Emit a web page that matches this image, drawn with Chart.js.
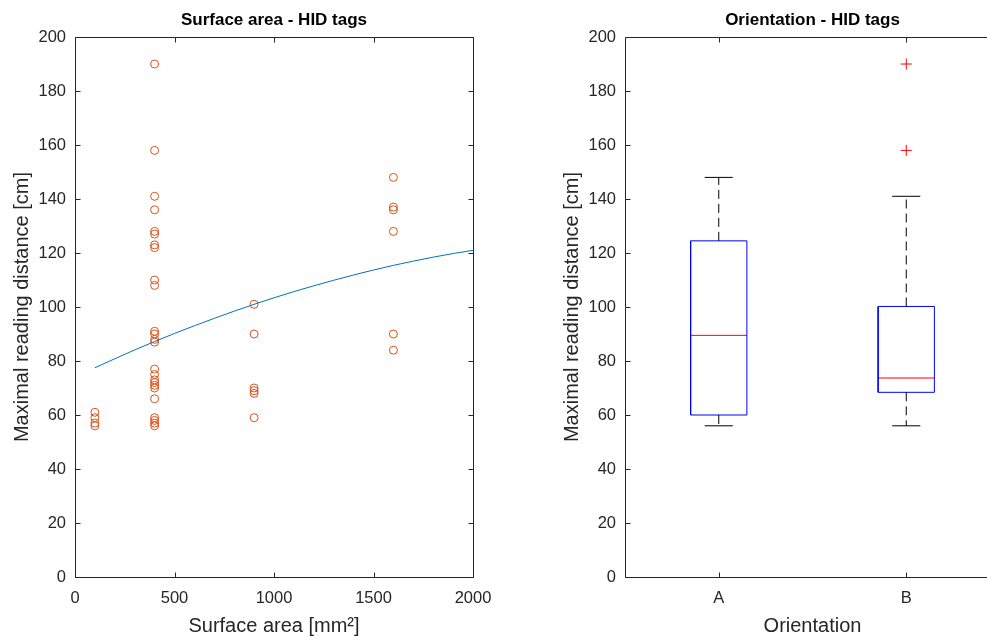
<!DOCTYPE html>
<html>
<head>
<meta charset="utf-8">
<script src="https://cdn.jsdelivr.net/npm/chart.js@4.4.0/dist/chart.umd.min.js"></script>
<style>
  html, body { margin: 0; padding: 0; background: #fff; overflow: hidden; }
  #wrap { position: relative; width: 987px; height: 641px; overflow: hidden; background: #fff; }
  #wrap canvas { position: absolute; top: 0; }
  #c1 { left: 0; }
  #c2 { left: 530px; }
</style>
</head>
<body>
<div id="wrap">
  <canvas id="c1" width="530" height="641"></canvas>
  <canvas id="c2" width="480" height="641"></canvas>
</div>
<script>
// ---- Surface area vs. maximal reading distance ----
const surfaceArea = [
  100, 100, 100, 100,
  400, 400, 400, 400, 400, 400, 400, 400, 400, 400, 400, 400, 400,
  400, 400, 400, 400, 400, 400, 400, 400, 400, 400, 400, 400,
  900, 900, 900, 900, 900, 900,
  1600, 1600, 1600, 1600, 1600, 1600
];
const readingDistance = [
  61, 59, 57, 56,
  190, 158, 141, 136, 128, 127, 123, 122, 110, 108, 91, 90, 88,
  87, 77, 75, 73, 72, 71, 70, 66, 59, 58, 57, 56,
  101, 90, 70, 69, 68, 59,
  148, 137, 136, 128, 90, 84
];

// fitted trend curve
const fitArea = [100, 300, 500, 700, 900, 1100, 1300, 1500, 1700, 1900, 2000];
const fitDistance = [77.5, 84.1, 90.2, 95.8, 101, 105.7, 109.9, 113.7, 117, 119.8, 121];

// ---- Orientation box plot statistics ----
const orientations = ['A', 'B'];
const whiskerLow = [56, 56];
const quartile1 = [60, 68.4];
const medians = [89.5, 73.7];
const quartile3 = [124.5, 100.2];
const whiskerHigh = [148, 141];
const outliers = [[], [190, 158]];

// axis tick values
const areaTicks = [0, 500, 1000, 1500, 2000];
const distanceTicks = [0, 20, 40, 60, 80, 100, 120, 140, 160, 180, 200];

// ---- styling ----
const FONT = "'Liberation Sans', Arial, Helvetica, sans-serif";
const AXIS_COLOR = '#262626';
const TICK_LEN = 5;
const BOX_HALF = 0.15;
const CAP_HALF = 0.075;
const WHISKER_DASH = [9, 5];

// Closed box with inward tick marks on all four sides
const framePlugin = {
  id: 'frame',
  afterDatasetsDraw(chart) {
    const { ctx, chartArea: a, scales: { x, y } } = chart;
    const L = Math.round(a.left) + 0.5, R = Math.round(a.right) + 0.5;
    const T = Math.round(a.top) + 0.5, B = Math.round(a.bottom) + 0.5;
    ctx.save();
    ctx.strokeStyle = AXIS_COLOR;
    ctx.lineWidth = 1;
    ctx.beginPath();
    ctx.rect(L, T, R - L, B - T);
    x.ticks.forEach(t => {
      const px = Math.round(x.getPixelForValue(t.value)) + 0.5;
      ctx.moveTo(px, B); ctx.lineTo(px, B - TICK_LEN);
      ctx.moveTo(px, T); ctx.lineTo(px, T + TICK_LEN);
    });
    y.ticks.forEach(t => {
      const py = Math.round(y.getPixelForValue(t.value)) + 0.5;
      ctx.moveTo(L, py); ctx.lineTo(L + TICK_LEN, py);
      ctx.moveTo(R, py); ctx.lineTo(R - TICK_LEN, py);
    });
    ctx.stroke();
    ctx.restore();
  }
};

function titleOpts(text) {
  return {
    display: true,
    fullSize: false,
    text: text,
    color: '#000',
    font: { family: FONT, size: 17, weight: 'bold' },
    padding: { top: 10, bottom: 6.6 }
  };
}

function yScale() {
  return {
    type: 'linear',
    min: 0, max: 200,
    afterBuildTicks: s => { s.ticks = distanceTicks.map(v => ({ value: v })); },
    afterFit: s => { s.width = 75; },
    grid: { display: false, drawTicks: false },
    border: { display: false },
    ticks: {
      color: AXIS_COLOR, padding: 9,
      font: { family: FONT, size: 16.5 },
      callback: v => String(v)
    },
    title: {
      display: true,
      text: 'Maximal reading distance [cm]',
      color: AXIS_COLOR,
      font: { family: FONT, size: 20 },
      padding: { top: 10, bottom: 0 }
    }
  };
}

function xScale(extra) {
  return Object.assign({
    type: 'linear',
    afterFit: s => { s.height = 64; },
    grid: { display: false, drawTicks: false },
    border: { display: false }
  }, extra);
}

const common = {
  responsive: false,
  animation: false,
  events: [],
  plugins: { legend: { display: false }, tooltip: { enabled: false } }
};

// ---- left: scatter with trend curve ----
new Chart(document.getElementById('c1'), {
  type: 'scatter',
  data: {
    datasets: [
      {
        type: 'line',
        data: fitArea.map((x, i) => ({ x, y: fitDistance[i] })),
        borderColor: '#0072BD',
        borderWidth: 1,
        pointRadius: 0,
        cubicInterpolationMode: 'monotone',
        fill: false,
        order: 0
      },
      {
        data: surfaceArea.map((x, i) => ({ x, y: readingDistance[i] })),
        pointStyle: 'circle',
        pointRadius: 4,
        borderColor: '#D95319',
        backgroundColor: 'rgba(0,0,0,0)',
        borderWidth: 1,
        order: 1
      }
    ]
  },
  options: Object.assign({}, common, {
    layout: { padding: { left: 0, right: 57, top: 0, bottom: 0 } },
    plugins: Object.assign({}, common.plugins, { title: titleOpts('Surface area - HID tags') }),
    scales: {
      x: xScale({
        min: 0, max: 2000,
        afterBuildTicks: s => { s.ticks = areaTicks.map(v => ({ value: v })); },
        ticks: {
          color: AXIS_COLOR, padding: 12, maxRotation: 0,
          font: { family: FONT, size: 16.5 },
          callback: v => String(v)
        },
        title: {
          display: true,
          text: 'Surface area [mm²]',
          color: AXIS_COLOR,
          font: { family: FONT, size: 20 },
          padding: { top: 0, bottom: 3 }
        }
      }),
      y: yScale()
    }
  }),
  plugins: [framePlugin]
});

// ---- right: box plot per orientation ----
function line(points, color, dash) {
  return {
    type: 'line',
    data: points,
    borderColor: color,
    borderWidth: 1,
    borderDash: dash || [],
    pointRadius: 0,
    fill: false,
    tension: 0
  };
}

const boxSets = [];
orientations.forEach((name, i) => {
  const c = i + 1;
  // whiskers (drawn from the box edge outwards)
  boxSets.push(line([{ x: c, y: quartile3[i] }, { x: c, y: whiskerHigh[i] }], '#000', WHISKER_DASH));
  boxSets.push(line([{ x: c, y: quartile1[i] }, { x: c, y: whiskerLow[i] }], '#000', WHISKER_DASH));
  // whisker caps
  boxSets.push(line([{ x: c - CAP_HALF, y: whiskerHigh[i] }, { x: c + CAP_HALF, y: whiskerHigh[i] }], '#000'));
  boxSets.push(line([{ x: c - CAP_HALF, y: whiskerLow[i] }, { x: c + CAP_HALF, y: whiskerLow[i] }], '#000'));
  // box
  boxSets.push(line([
    { x: c - BOX_HALF, y: quartile1[i] }, { x: c + BOX_HALF, y: quartile1[i] },
    { x: c + BOX_HALF, y: quartile3[i] }, { x: c - BOX_HALF, y: quartile3[i] },
    { x: c - BOX_HALF, y: quartile1[i] }
  ], '#0000FF'));
  // median
  boxSets.push(line([{ x: c - BOX_HALF, y: medians[i] }, { x: c + BOX_HALF, y: medians[i] }], '#FF0000'));
  // outliers
  if (outliers[i].length) {
    boxSets.push({
      data: outliers[i].map(v => ({ x: c, y: v })),
      pointStyle: 'cross',
      pointRadius: 5.5,
      borderColor: '#FF0000',
      borderWidth: 1
    });
  }
});

new Chart(document.getElementById('c2'), {
  type: 'scatter',
  data: { datasets: boxSets },
  options: Object.assign({}, common, {
    layout: { padding: { left: 20, right: 10, top: 0, bottom: 0 } },
    plugins: Object.assign({}, common.plugins, { title: titleOpts('Orientation - HID tags') }),
    scales: {
      x: xScale({
        min: 0.5, max: 2.5,
        afterBuildTicks: s => { s.ticks = orientations.map((n, i) => ({ value: i + 1 })); },
        ticks: {
          color: AXIS_COLOR, padding: 12, maxRotation: 0,
          font: { family: FONT, size: 16.5 },
          callback: v => orientations[v - 1]
        },
        title: {
          display: true,
          text: 'Orientation',
          color: AXIS_COLOR,
          font: { family: FONT, size: 20 },
          padding: { top: 0, bottom: 3 }
        }
      }),
      y: yScale()
    }
  }),
  plugins: [framePlugin]
});
</script>
</body>
</html>
